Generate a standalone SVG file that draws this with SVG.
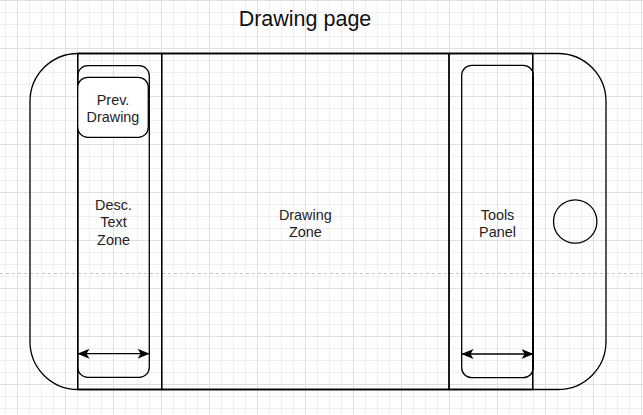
<svg xmlns="http://www.w3.org/2000/svg" width="643" height="415" viewBox="0 0 643 415">
  <defs>
    <pattern id="grid" x="17" y="0" width="48" height="48" patternUnits="userSpaceOnUse">
      <path d="M12.5 0V48M24.5 0V48M36.5 0V48M0 12.5H48M0 24.5H48M0 36.5H48" stroke="#f0f0f0" stroke-width="1" fill="none"/>
      <path d="M0.5 0V48M0 0.5H48" stroke="#e0e0e0" stroke-width="1" fill="none"/>
    </pattern>
    <marker id="head" viewBox="0 0 12 10" refX="11" refY="5" markerWidth="12" markerHeight="10" markerUnits="userSpaceOnUse" orient="auto-start-reverse">
      <path d="M0 0L12 5L0 10L3 5Z" fill="#000"/>
    </marker>
    <style>
      .shape { fill: none; stroke: #000; stroke-width: 1.3; }
      .fillw { fill: #fff; stroke: #000; stroke-width: 1.3; }
      .label { font-family: "Liberation Sans", Arial, sans-serif; font-size: 14.4px; fill: #222; text-anchor: middle; }
      .title { font-family: "Liberation Sans", Arial, sans-serif; font-size: 21.5px; fill: #111; text-anchor: middle; }
      .conn { stroke: #000; stroke-width: 1.3; fill: none; }
    </style>
  </defs>

  <!-- canvas grid -->
  <rect x="0" y="0" width="643" height="415" fill="#fff"/>
  <rect x="0" y="0" width="643" height="415" fill="url(#grid)"/>

  <!-- page break line -->
  <line x1="0" y1="273.5" x2="643" y2="273.5" stroke="#c4c4c4" stroke-width="1" stroke-dasharray="3 3"/>

  <!-- title -->
  <text class="title" x="305" y="26">Drawing page</text>

  <!-- device body -->
  <g id="device">
    <rect class="shape" x="30" y="53.5" width="576" height="336" rx="48" ry="48"/>
  </g>

  <!-- screen area -->
  <g id="screen">
    <rect class="shape" x="77.7" y="53.5" width="455" height="336"/>
  </g>

  <g id="desc-column">
    <rect class="shape" x="77.7" y="53.5" width="84" height="336"/>
  </g>

  <g id="drawing-zone">
    <rect class="shape" x="161.7" y="53.5" width="287.3" height="336"/>
    <text class="label" x="305.3" y="219.5">Drawing</text>
    <text class="label" x="305.3" y="236.5">Zone</text>
  </g>

  <g id="tools-column">
    <rect class="shape" x="449" y="53.5" width="83.7" height="336"/>
  </g>

  <g id="desc-text-zone">
    <rect class="shape" x="77.7" y="65.7" width="71.6" height="311.6" rx="10" ry="10"/>
    <text class="label" x="113.5" y="210">Desc.</text>
    <text class="label" x="113.5" y="227.3">Text</text>
    <text class="label" x="113.5" y="244.6">Zone</text>
  </g>

  <g id="prev-drawing">
    <rect class="fillw" x="77.7" y="77.3" width="70.6" height="60" rx="10" ry="10"/>
    <text class="label" x="113" y="104.5">Prev.</text>
    <text class="label" x="113" y="121.8">Drawing</text>
  </g>

  <g id="tools-panel">
    <rect class="shape" x="461.7" y="65.3" width="71.6" height="312.4" rx="10" ry="10"/>
    <text class="label" x="497.5" y="219.5">Tools</text>
    <text class="label" x="497.5" y="236.5">Panel</text>
  </g>

  <g id="home-button">
    <circle class="shape" cx="575.2" cy="221.5" r="21.7"/>
  </g>

  <!-- width indicators -->
  <g id="connectors">
    <line class="conn" x1="78.5" y1="353.7" x2="148.6" y2="353.7" marker-start="url(#head)" marker-end="url(#head)"/>
    <line class="conn" x1="462.5" y1="354" x2="532.6" y2="354" marker-start="url(#head)" marker-end="url(#head)"/>
  </g>
</svg>
